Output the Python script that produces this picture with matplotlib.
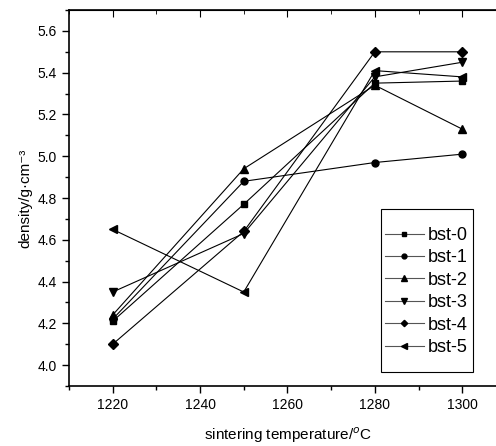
import matplotlib
matplotlib.use("agg")
import matplotlib.pyplot as plt
from matplotlib.patches import Rectangle
from matplotlib.ticker import MultipleLocator, FormatStrFormatter

plt.rcParams['font.family'] = ['Liberation Sans', 'DejaVu Sans']

#### Data ####
temps = [1220, 1250, 1280, 1300]
labels = ["bst-0", "bst-1", "bst-2", "bst-3", "bst-4", "bst-5"]
bst0 = [4.21, 4.77, 5.35, 5.36]
bst1 = [4.22, 4.88, 4.97, 5.01]
bst2 = [4.24, 4.94, 5.34, 5.13]
bst3 = [4.35, 4.63, 5.38, 5.45]
bst4 = [4.10, 4.64, 5.50, 5.50]
bst5 = [4.65, 4.35, 5.41, 5.38]
series = [bst0, bst1, bst2, bst3, bst4, bst5]
markers = ["s", "o", "^", "v", "D", "<"]
sizes = [4.5, 5, 6, 6, 4.6, 6]

fig = plt.figure(figsize=(4.96, 4.46), dpi=100)
ax = fig.add_axes([0.139, 0.1345, 0.881, 0.843])

for vals, lab, m, s in zip(series, labels, markers, sizes):
	ax.plot(temps, vals, color="black", lw=0.8, marker=m, ms=s, label=lab)

ax.set_xlim(1210, 1310)
ax.set_ylim(3.9, 5.7)
ax.xaxis.set_major_locator(MultipleLocator(20))
ax.xaxis.set_minor_locator(MultipleLocator(10))
ax.yaxis.set_major_locator(MultipleLocator(0.2))
ax.yaxis.set_minor_locator(MultipleLocator(0.1))
ax.yaxis.set_major_formatter(FormatStrFormatter("%.1f"))
ax.tick_params(which="major", direction="out", length=5, width=1, labelsize=10)
ax.tick_params(which="minor", direction="out", length=3, width=1)
for sp in ax.spines.values():
	sp.set_linewidth(1.2)

top = ax.secondary_xaxis("top")
top.xaxis.set_major_locator(MultipleLocator(20))
top.xaxis.set_minor_locator(MultipleLocator(10))
top.tick_params(which="major", direction="in", length=5, labeltop=False)
top.tick_params(which="minor", direction="in", length=3)

ax.set_xlabel("sintering temperature/$^{o}$C", fontsize=11, labelpad=10)
ax.set_ylabel("density/g\u00b7cm\u207b\u00b3", fontsize=11, labelpad=4)

# legend box drawn separately (Origin-style box with extra room at the bottom)
box_x0, box_x1 = 0.714, 0.9245
box_y0, box_y1 = 0.037, 0.471
ax.add_patch(Rectangle((box_x0, box_y0), box_x1 - box_x0, box_y1 - box_y0,
	transform=ax.transAxes, fill=True, facecolor="white", edgecolor="black", lw=0.8, zorder=4))

leg = ax.legend(loc="upper left", bbox_to_anchor=(box_x0 - 0.033, box_y1), borderaxespad=0,
	fontsize=13, frameon=False, handlelength=2.2, handletextpad=0.2,
	labelspacing=0.3, borderpad=1.0, markerscale=0.7)
leg.set_zorder(5)
for h in leg.get_lines():
	h.set_color("#555555")
	h.set_markerfacecolor("black")
	h.set_markeredgecolor("black")

fig.savefig("out.png", dpi=100)
